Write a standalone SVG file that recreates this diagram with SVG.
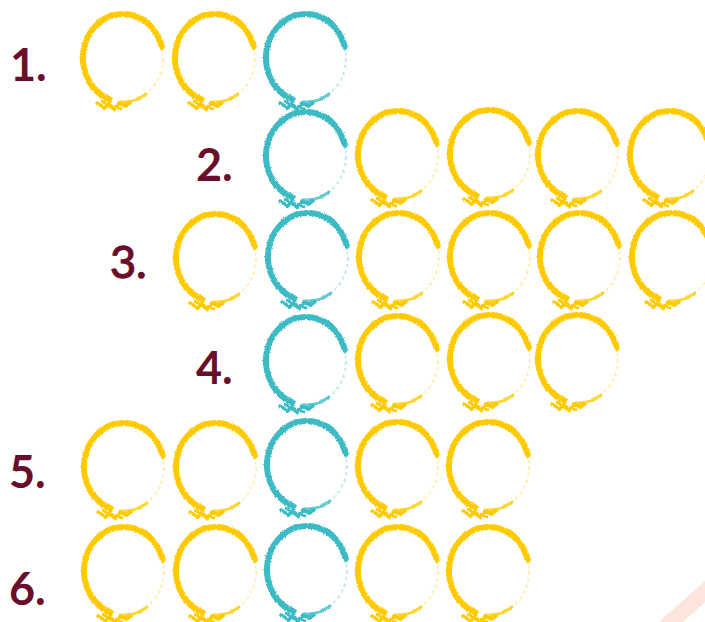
<svg xmlns="http://www.w3.org/2000/svg" xmlns:xlink="http://www.w3.org/1999/xlink" width="705" height="622" viewBox="0 0 705 622">
<style>
.lbl{font-family:Lato,"Noto Sans","Liberation Sans",sans-serif;font-weight:700;font-size:45px;fill:#6A0F2B}
.lbl.n{font-weight:400;stroke:#6A0F2B;stroke-width:1.3}
.y{color:#FFCB05}
.t{color:#3DBBC5}
</style>
<defs>
<filter id="rough" x="-20%" y="-20%" width="140%" height="140%">
<feTurbulence type="fractalNoise" baseFrequency="0.55" numOctaves="2" seed="3" result="n"/>
<feDisplacementMap in="SourceGraphic" in2="n" scale="3" xChannelSelector="R" yChannelSelector="G"/>
</filter>
<g id="ring" fill="none" stroke="currentColor" stroke-linecap="round" stroke-linejoin="round" filter="url(#rough)">
<path d="M38.6 -11.4 A40 44 0 1 0 -13.7 41.3" stroke-width="6"/>
<path d="M38.6 -11.4 A40 44 0 0 1 22.9 36" stroke-width="2" stroke-dasharray="1.5 5" opacity="0.35"/>
<path d="M22.9 36 A40 44 0 0 1 -3.5 43.8" stroke-width="3" opacity="0.8"/>
<path d="M-26 45 L-18 50 L-14 45 L-9 52 L-4 45 L2 48 L7 45" stroke-width="3.5"/>
<path d="M-21 43 L-13 49 M-8 49 L-2 51" stroke-width="2.5"/>
</g>
</defs>
<path d="M716 582 L664 628" stroke="#F9D4C7" stroke-width="16" stroke-linecap="round" opacity="0.6"/>
<g id="labels">
<text class="lbl" x="10" y="81">1.</text>
<text class="lbl" x="196" y="181">2.</text>
<text class="lbl n" x="110" y="278">3.</text>
<text class="lbl" x="196" y="384">4.</text>
<text class="lbl" x="9" y="488">5.</text>
<text class="lbl" x="9" y="605">6.</text>
</g>
<g id="row1">
<g id="r1c1" class="y"><use xlink:href="#ring" x="123" y="58"/></g>
<g id="r1c2" class="y"><use xlink:href="#ring" x="215" y="58"/></g>
<g id="r1c3" class="t"><use xlink:href="#ring" x="306" y="58"/></g>
</g>
<g id="row2">
<g id="r2c1" class="t"><use xlink:href="#ring" x="306" y="156"/></g>
<g id="r2c2" class="y"><use xlink:href="#ring" x="398" y="155"/></g>
<g id="r2c3" class="y"><use xlink:href="#ring" x="490" y="154"/></g>
<g id="r2c4" class="y"><use xlink:href="#ring" x="578" y="155"/></g>
<g id="r2c5" class="y"><use xlink:href="#ring" x="670" y="155"/></g>
</g>
<g id="row3">
<g id="r3c1" class="y"><use xlink:href="#ring" x="216" y="258"/></g>
<g id="r3c2" class="t"><use xlink:href="#ring" x="308" y="257"/></g>
<g id="r3c3" class="y"><use xlink:href="#ring" x="399" y="257"/></g>
<g id="r3c4" class="y"><use xlink:href="#ring" x="490" y="257"/></g>
<g id="r3c5" class="y"><use xlink:href="#ring" x="580" y="257"/></g>
<g id="r3c6" class="y"><use xlink:href="#ring" x="672" y="257"/></g>
</g>
<g id="row4">
<g id="r4c1" class="t"><use xlink:href="#ring" x="306" y="361"/></g>
<g id="r4c2" class="y"><use xlink:href="#ring" x="398" y="360"/></g>
<g id="r4c3" class="y"><use xlink:href="#ring" x="490" y="359"/></g>
<g id="r4c4" class="y"><use xlink:href="#ring" x="578" y="359"/></g>
</g>
<g id="row5">
<g id="r5c1" class="y"><use xlink:href="#ring" x="124" y="467"/></g>
<g id="r5c2" class="y"><use xlink:href="#ring" x="216" y="467"/></g>
<g id="r5c3" class="t"><use xlink:href="#ring" x="307" y="465"/></g>
<g id="r5c4" class="y"><use xlink:href="#ring" x="398" y="466"/></g>
<g id="r5c5" class="y"><use xlink:href="#ring" x="489" y="466"/></g>
</g>
<g id="row6">
<g id="r6c1" class="y"><use xlink:href="#ring" x="124" y="571"/></g>
<g id="r6c2" class="y"><use xlink:href="#ring" x="216" y="571"/></g>
<g id="r6c3" class="t"><use xlink:href="#ring" x="307" y="570"/></g>
<g id="r6c4" class="y"><use xlink:href="#ring" x="398" y="571"/></g>
<g id="r6c5" class="y"><use xlink:href="#ring" x="489" y="571"/></g>
</g>
</svg>
